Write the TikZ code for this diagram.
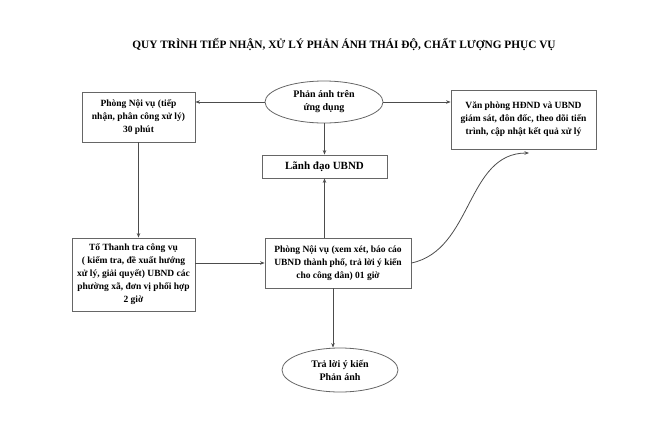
\documentclass[tikz,border=0pt]{standalone}
\usepackage{fontspec}
\setmainfont{Liberation Serif}
\usetikzlibrary{
    arrows.meta,
    shapes,
    positioning
}

\begin{document}
\begin{tikzpicture}[x=1pt, y=-1pt, >={Stealth[length=4.5pt,width=3.5pt]},
    hop/.style={draw=black!60, line width=0.8pt, align=center, inner sep=1pt,
        font=\fontsize{9.5}{13}\selectfont\bfseries},
    vong/.style={ellipse, draw=black!60, line width=0.8pt, align=center, inner sep=0pt,
        font=\fontsize{10}{13}\selectfont\bfseries},
    noi/.style={->, draw=black!70, line width=0.8pt}]
    \useasboundingbox (0,0) rectangle (670,429);
    \node[font=\fontsize{11.3}{13}\selectfont\bfseries] (tieude) at (344,45)
        {QUY TRÌNH TIẾP NHẬN, XỬ LÝ PHẢN ÁNH THÁI ĐỘ, CHẤT LƯỢNG PHỤC VỤ};
    \node[hop, minimum width=113pt, minimum height=50pt] (noivu1) at (138.5,117)
        {Phòng Nội vụ (tiếp\\nhận, phân công xử lý)\\30 phút};
    \node[vong, minimum width=118pt, minimum height=42pt] (phananh) at (324,102)
        {Phản ánh trên\\ứng dụng};
    \node[hop, minimum width=125pt, minimum height=23pt,
        font=\fontsize{11}{13}\selectfont\bfseries] (lanhdao) at (324.5,166.5)
        {Lãnh đạo UBND};
    \node[hop, minimum width=145pt, minimum height=59pt] (vanphong) at (523.5,119.5)
        {Văn phòng HĐND và UBND\\giám sát, đôn đốc, theo dõi tiến\\trình, cập nhật kết quả xử lý};
    \node[hop, minimum width=123pt, minimum height=73pt] (totra) at (133.5,274.5)
        {Tổ Thanh tra công vụ\\( kiểm tra, đề xuất hướng\\xử lý, giải quyết) UBND các\\phường xã, đơn vị phối hợp\\2 giờ};
    \node[hop, minimum width=146pt, minimum height=50pt] (noivu2) at (338,263)
        {Phòng Nội vụ (xem xét, báo cáo\\UBND thành phố, trả lời ý kiến\\cho công dân) 01 giờ};
    \node[vong, minimum width=116pt, minimum height=44pt] (traloi) at (340,370)
        {Trả lời ý kiến\\Phản ánh};
    \coordinate (vpden) at (529,153);

    \draw[noi] (phananh.west) -- (noivu1.east |- phananh.west);
    \draw[noi] (phananh.east) -- (vanphong.west |- phananh.east);
    \draw[noi] (phananh.south -| lanhdao.north) -- (lanhdao.north);
    \draw[noi] (noivu1.south) -- (noivu1.south |- totra.north);
    \draw[noi] (totra.east |- noivu2.west) -- (noivu2.west);
    \draw[noi] (lanhdao.south |- noivu2.north) -- (lanhdao.south);
    \draw[noi] (noivu2.south -| 333,0) -- (traloi.north -| 333,0);
    \draw[noi] (noivu2.east) to[out=12, in=180] (vpden);
\end{tikzpicture}
\end{document}
